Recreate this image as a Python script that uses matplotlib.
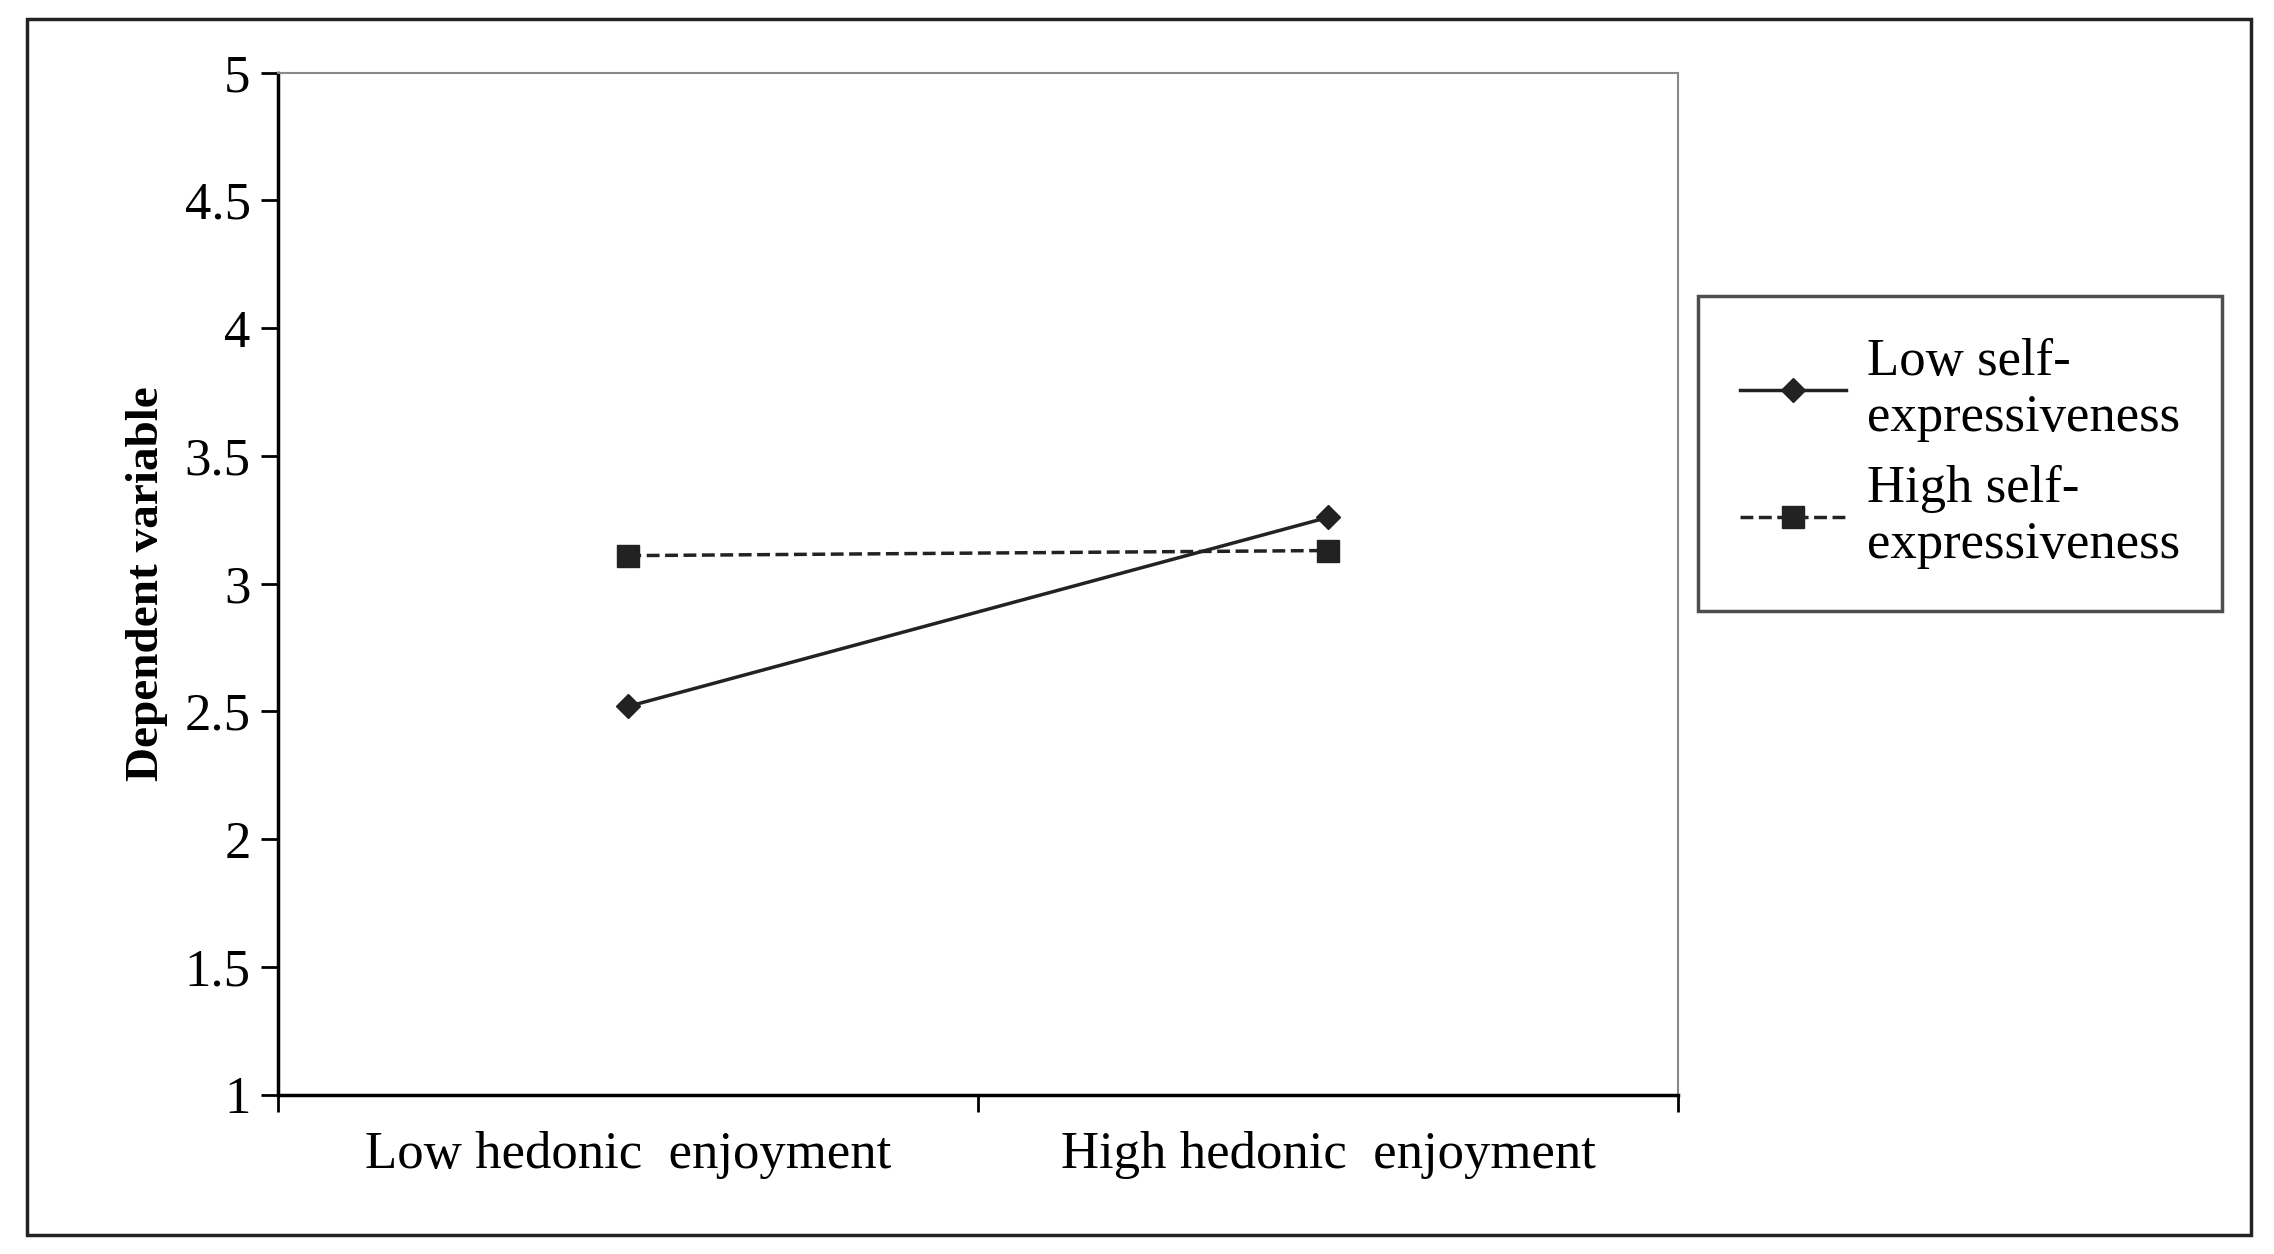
import matplotlib.pyplot as plt
from matplotlib.patches import Rectangle

categories = ['Low hedonic  enjoyment', 'High hedonic  enjoyment']
low_self = [2.52, 3.26]
high_self = [3.11, 3.13]
series_names = ['Low self-\nexpressiveness', 'High self-\nexpressiveness']
y_ticks = [1, 1.5, 2, 2.5, 3, 3.5, 4, 4.5, 5]

plt.rcParams['font.family'] = ['Liberation Serif', 'DejaVu Serif']

fig = plt.figure(figsize=(22.74, 12.54), dpi=100)
ax = fig.add_axes([0.1224, 0.127, 0.6156, 0.815])

xs = [0.5, 1.5]
ax.plot(xs, low_self, color='#222222', lw=2.5, marker='D', ms=12, label=series_names[0])
ax.plot(xs, high_self, color='#222222', lw=2.5, ls='--', marker='s', ms=16, label=series_names[1])

ax.set_xlim(0, 2)
ax.set_ylim(1, 5)
ax.set_yticks(y_ticks)
ax.set_yticklabels([f'{v:g}' for v in y_ticks])
ax.set_xticks([0, 1, 2])
ax.set_xticklabels([])
ax.set_xticks(xs, minor=True)
ax.set_xticklabels(categories, minor=True)
ax.tick_params(axis='x', which='minor', length=0, pad=26, labelsize=38)
ax.tick_params(axis='x', which='major', length=12, width=2, direction='out')
ax.tick_params(axis='y', length=12, width=2, labelsize=38, pad=8)
for side in ['left', 'bottom']:
    ax.spines[side].set_linewidth(2.5)
for side in ['right', 'top']:
    ax.spines[side].set_color('#888888')
    ax.spines[side].set_linewidth(1.5)
ax.set_ylabel('Dependent variable', fontsize=34, fontweight='bold', labelpad=12)

leg = fig.legend(loc='upper left', bbox_to_anchor=(0.735, 0.785), fontsize=38,
                 frameon=True, fancybox=False, edgecolor='#222222',
                 handlelength=2.0, borderpad=0.8, labelspacing=0.45, handletextpad=0.4)
leg.get_frame().set_linewidth(2.5)

fig.patches.append(Rectangle((0.012, 0.015), 0.978, 0.97, transform=fig.transFigure,
                             fill=False, edgecolor='#222222', lw=2.5))

fig.savefig('out.png', dpi=100)
